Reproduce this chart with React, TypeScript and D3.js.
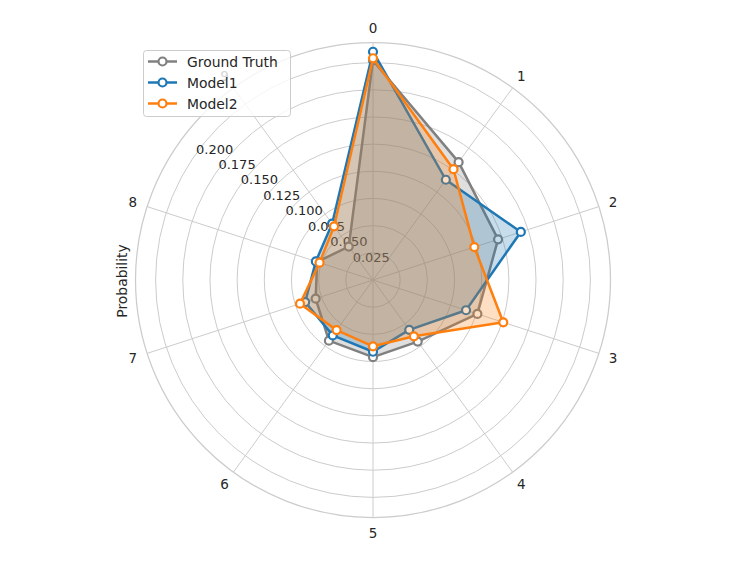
import { FC } from 'react';
import * as d3 from 'd3';

// category labels around the circle
const categories = ['0', '1', '2', '3', '4', '5', '6', '7', '8', '9'];

// probability per category
const groundTruth = [0.202, 0.134, 0.121, 0.101, 0.070, 0.071, 0.069, 0.0555, 0.054, 0.038];
const model1 = [0.210, 0.114, 0.143, 0.090, 0.0567, 0.066, 0.063, 0.0656, 0.0553, 0.064];
const model2 = [0.204, 0.126, 0.098, 0.126, 0.064, 0.061, 0.057, 0.0706, 0.0517, 0.061];

const seriesNames = ['Ground Truth', 'Model1', 'Model2'];
const seriesColors = ['#808080', '#1f77b4', '#ff7f0e'];

const radialTicks = [0.025, 0.05, 0.075, 0.1, 0.125, 0.15, 0.175, 0.2];
const rMax = 0.2185;

const W = 747;
const H = 561;
const cx = 373;
const cy = 280;
const outer = 237.5;
const font = '"DejaVu Sans", sans-serif';
const textColor = '#262626';

const App: FC = () => {
    const seriesValues = [groundTruth, model1, model2];

    const r = d3.scaleLinear().domain([0, rMax]).range([0, outer]);
    const angle = d3.scaleLinear().domain([0, categories.length]).range([0, 2 * Math.PI]);

    const point = (i: number, v: number) => {
        const a = angle(i);
        return [Math.sin(a) * r(v), -Math.cos(a) * r(v)];
    };

    const line = d3.lineRadial<number>()
        .angle((_d, i) => angle(i))
        .radius(d => r(d))
        .curve(d3.curveLinearClosed);

    // radial tick labels sit along this direction
    const labelAngle = -55.4 * Math.PI / 180;

    return (
        <svg width={W} height={H} style={{ position: 'absolute', left: 0, top: 0, background: '#fff' }}
            fontFamily={font}>
            <g transform={`translate(${cx},${cy})`}>
                {/* grid circles */}
                {radialTicks.map(t => (
                    <circle key={t} r={r(t)} fill="none" stroke="#cccccc" strokeWidth={1} />
                ))}
                {/* spokes */}
                {categories.map((_c, i) => {
                    const [x, y] = point(i, rMax);
                    return <line key={i} x1={0} y1={0} x2={x} y2={y} stroke="#cccccc" strokeWidth={1} />;
                })}
                <circle r={outer} fill="none" stroke="#cccccc" strokeWidth={1.25} />

                {/* category labels */}
                {categories.map((c, i) => {
                    const a = angle(i);
                    return (
                        <text key={c} x={Math.sin(a) * (outer + 15)} y={-Math.cos(a) * (outer + 15)}
                            textAnchor="middle" dominantBaseline="central" fontSize={13.5} fill={textColor}>
                            {c}
                        </text>
                    );
                })}

                {/* radial tick labels */}
                {radialTicks.map(t => (
                    <text key={t} x={Math.sin(labelAngle) * r(t) + 2} y={-Math.cos(labelAngle) * r(t) - 3}
                        fontSize={13} fill={textColor}>
                        {t.toFixed(3)}
                    </text>
                ))}

                {/* series: fill, line, markers */}
                {seriesValues.map((vals, s) => (
                    <g key={seriesNames[s]}>
                        <path d={line(vals) ?? ''} fill={seriesColors[s]} fillOpacity={0.25} stroke="none" />
                        <path d={line(vals) ?? ''} fill="none" stroke={seriesColors[s]} strokeWidth={2.5}
                            strokeLinejoin="round" />
                        {vals.map((v, i) => {
                            const [x, y] = point(i, v);
                            return <circle key={i} cx={x} cy={y} r={4} fill="#fff" stroke={seriesColors[s]} strokeWidth={2.2} />;
                        })}
                    </g>
                ))}
            </g>

            {/* y label */}
            <text transform={`translate(122,${cy + 1}) rotate(-90)`} textAnchor="middle" dominantBaseline="central"
                fontSize={13.9} fill={textColor}>
                Probability
            </text>

            {/* legend */}
            <g>
                <rect x={143.5} y={50.5} width={147} height={66} rx={3} fill="#fff" fillOpacity={0.8}
                    stroke="#cccccc" strokeWidth={1} />
                {seriesNames.map((name, s) => {
                    const y = 61.5 + s * 21;
                    return (
                        <g key={name}>
                            <line x1={148} x2={177} y1={y} y2={y} stroke={seriesColors[s]} strokeWidth={2.5} />
                            <circle cx={162.5} cy={y} r={4} fill="#fff" stroke={seriesColors[s]} strokeWidth={2.2} />
                            <text x={187} y={y} dominantBaseline="central" fontSize={13.9} fill={textColor}>{name}</text>
                        </g>
                    );
                })}
            </g>
        </svg>
    );
};

export default App;
